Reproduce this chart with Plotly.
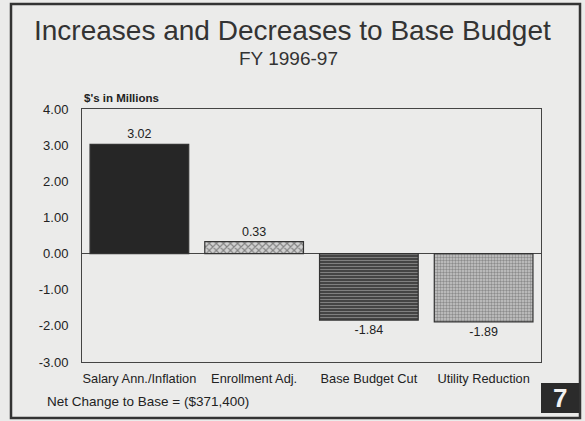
import plotly.graph_objects as go

categories = ["Salary Ann./Inflation", "Enrollment Adj.", "Base Budget Cut", "Utility Reduction"]
values = [3.02, 0.33, -1.84, -1.89]
value_labels = ["3.02", "0.33", "-1.84", "-1.89"]
y_tickvals = [4, 3, 2, 1, 0, -1, -2, -3]
y_ticktext = ["4.00", "3.00", "2.00", "1.00", "0.00", "-1.00", "-2.00", "-3.00"]

W, H = 585, 421
L, R, T, B = 82, 541, 109, 362
PW, PH = R - L, B - T


def px(x):
    return (x - L) / PW


def py(y):
    return (B - y) / PH


FONT = "Arial, Liberation Sans, sans-serif"
TXT = "#222222"
BG = "#ebebea"

fills = ["#262626", "#9a9a9a", "#5e5e5e", "#b4b4b4"]
patterns = [
    dict(shape=""),
    dict(shape="x", fgcolor="#333333", bgcolor="#d0d0d0", size=5, solidity=0.4),
    dict(shape="-", fgcolor="#c8c8c8", bgcolor="#444444", size=3, solidity=0.3),
    dict(shape=".", fgcolor="#505050", bgcolor="#c8c8c8", size=3, solidity=0.5),
]

fig = go.Figure()
for i, (c, v, t) in enumerate(zip(categories, values, value_labels)):
    fig.add_trace(go.Bar(
        x=[c], y=[v], text=[t], textposition="outside",
        textfont=dict(family=FONT, size=12.5, color=TXT),
        marker=dict(color=fills[i], pattern=patterns[i],
                    line=dict(color="#333333", width=1.2)),
        cliponaxis=False, showlegend=False,
    ))

fig.update_layout(
    width=W, height=H,
    margin=dict(l=L, r=W - R, t=T, b=H - B),
    paper_bgcolor=BG, plot_bgcolor=BG,
    bargap=0.14, barmode="overlay",
    font=dict(family=FONT, color=TXT),
    uniformtext=dict(mode=False),
)
fig.update_xaxes(
    categoryorder="array", categoryarray=categories,
    showline=True, linecolor="#444444", linewidth=1, mirror=True,
    showgrid=False, ticks="", ticklabelstandoff=5,
    tickfont=dict(family=FONT, size=12.8, color=TXT),
    zeroline=False,
)
fig.update_yaxes(
    range=[-3, 4], tickvals=y_tickvals, ticktext=y_ticktext,
    showline=True, linecolor="#444444", linewidth=1, mirror=True,
    showgrid=False, zeroline=True, zerolinecolor="#444444", zerolinewidth=1,
    ticks="", ticklabelstandoff=10, tickfont=dict(family=FONT, size=13, color=TXT),
)

# outer frame
fig.add_shape(type="rect", xref="paper", yref="paper",
              x0=px(11), x1=px(580), y0=py(418), y1=py(4),
              line=dict(color="#333333", width=2.5), fillcolor="rgba(0,0,0,0)",
              layer="below")
# page number box
fig.add_shape(type="rect", xref="paper", yref="paper",
              x0=px(541), x1=px(579), y0=py(413), y1=py(383),
              line=dict(width=0), fillcolor="#2b2b2b")

annos = [
    dict(text="Increases and Decreases to Base Budget", x=px(292), y=py(30),
         size=28, color="#333333", xanchor="center"),
    dict(text="FY 1996-97", x=px(288), y=py(58), size=19, color="#333333", xanchor="center"),
    dict(text="<b>$'s in Millions</b>", x=px(82), y=py(98), size=11.5, color=TXT, xanchor="left"),
    dict(text="Net Change to Base = ($371,400)", x=px(45), y=py(401), size=13.5, color=TXT,
         xanchor="left"),
    dict(text="<b>7</b>", x=px(560), y=py(398), size=26, color="#f2f2f2", xanchor="center"),
]
for a in annos:
    fig.add_annotation(text=a["text"], x=a["x"], y=a["y"], xref="paper", yref="paper",
                       xanchor=a["xanchor"], yanchor="middle", showarrow=False,
                       font=dict(family=FONT, size=a["size"], color=a["color"]))

fig.write_html("out.html")
